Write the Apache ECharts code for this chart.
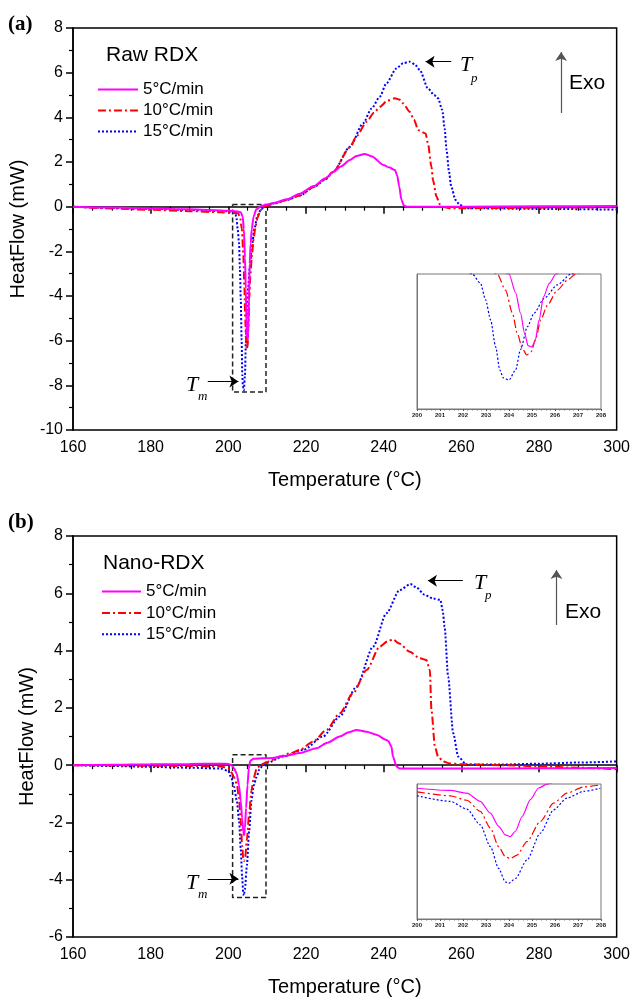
<!DOCTYPE html>
<html>
<head>
<meta charset="utf-8">
<script src="https://cdn.jsdelivr.net/npm/echarts@6/dist/echarts.min.js"></script>
<style>html,body{margin:0;padding:0;background:#fff}#c{width:633px;height:1001px}</style>
</head>
<body>
<div id="c"></div>
<script>
// ---------- DATA (temperature °C, heat flow mW) ----------
const rateNames = ['5°C/min', '10°C/min', '15°C/min'];
const xTicksMain = [160, 180, 200, 220, 240, 260, 280, 300];

// (a) Raw RDX
const raw5 = [[160,0.0],[170,-0.04],[180,-0.08],[190,-0.12],[200,-0.18],[202,-0.2],[203.2,-0.25],[203.7,-0.45],[204.0,-1.0],[204.29,-2.29],[204.5,-3.67],[204.68,-5.05],[204.83,-5.88],[204.99,-5.97],[205.13,-5.6],[205.31,-4.13],[205.5,-2.56],[205.75,-1.64],[206.04,-1.0],[206.5,-0.45],[207.2,-0.12],[208.5,0.03],[210,0.1],[212,0.18],[215,0.33],[218.4,0.58],[222,0.92],[225,1.27],[227,1.55],[229,1.8],[231.3,2.09],[233,2.27],[235.1,2.36],[237,2.25],[239.9,1.87],[241.5,1.75],[242.9,1.64],[243.5,1.4],[244.0,0.9],[244.6,0.3],[245.2,0.05],[245.9,0.0],[260,0.0],[280,0.02],[300,0.03]];
const raw10 = [[160,0.0],[170,-0.08],[180,-0.14],[190,-0.2],[198,-0.25],[201,-0.27],[202.5,-0.3],[203.0,-0.45],[203.49,-1.0],[203.85,-2.1],[204.15,-3.67],[204.36,-5.05],[204.58,-6.06],[204.77,-6.4],[204.97,-6.29],[205.16,-5.42],[205.38,-4.13],[205.67,-3.12],[206.1,-2.1],[206.55,-1.4],[206.9,-1.0],[207.5,-0.5],[208.3,-0.15],[209.5,0.02],[212,0.15],[215,0.3],[218.4,0.5],[222,0.88],[225,1.25],[227,1.57],[231.3,2.65],[233,3.15],[235.6,3.8],[237.5,4.2],[239,4.47],[241,4.75],[242.9,4.85],[244,4.8],[245,4.63],[246.7,4.25],[247.8,3.9],[248.9,3.43],[250.8,3.28],[251.4,2.84],[252.3,1.79],[252.7,1.19],[253.6,0.45],[254.5,0.1],[255.3,0.0],[257,-0.07],[270,-0.06],[285,-0.04],[300,-0.02]];
const raw15 = [[160,0.0],[170,-0.05],[180,-0.1],[190,-0.15],[198,-0.2],[201,-0.22],[201.8,-0.3],[202.1,-0.5],[202.4,-1.0],[202.76,-1.63],[202.98,-2.75],[203.2,-4.13],[203.42,-5.97],[203.6,-7.53],[203.75,-8.08],[204.0,-8.22],[204.29,-7.53],[204.5,-6.15],[204.8,-4.59],[205.09,-3.67],[205.53,-2.66],[206.1,-1.74],[206.7,-1.0],[207.5,-0.4],[208.5,-0.1],[209.5,0.05],[212,0.15],[215,0.3],[218.4,0.5],[222,0.88],[225,1.22],[227,1.55],[231.3,2.68],[234.7,3.73],[236.9,4.4],[239,4.92],[240.7,5.52],[243.3,6.19],[245,6.42],[246.7,6.49],[248,6.38],[249.3,6.12],[251.4,5.3],[253,5.0],[254,4.85],[255.1,4.33],[255.7,3.5],[256.2,2.54],[256.8,1.6],[257.4,0.9],[258.5,0.3],[259.6,0.08],[261.3,-0.07],[280,-0.1],[300,-0.13]];

// (b) Nano-RDX
const nano5 = [[160,0.0],[170,0.01],[180,0.03],[190,0.04],[198,0.05],[200,0.04],[200.8,0.0],[201.45,-0.1],[202.17,-0.3],[202.75,-0.7],[203.19,-1.25],[203.55,-1.85],[203.84,-2.3],[204.06,-2.45],[204.28,-2.2],[204.57,-1.5],[204.93,-0.7],[205.29,-0.1],[205.65,0.15],[206.5,0.22],[209,0.24],[211.5,0.25],[215,0.33],[218.4,0.42],[222.7,0.59],[225.5,0.78],[228.7,1.0],[231,1.15],[233,1.23],[235.6,1.17],[238.1,1.06],[240.7,0.88],[241.2,0.84],[242,0.65],[242.4,0.3],[243.3,-0.05],[244.1,-0.12],[260,-0.12],[280,-0.11],[300,-0.1]];
const nano10 = [[160,0.0],[170,-0.01],[180,-0.02],[190,-0.03],[198,-0.05],[200,-0.1],[200.8,-0.25],[201.45,-0.42],[202.17,-0.65],[202.75,-1.15],[203.19,-1.95],[203.55,-2.8],[203.84,-3.25],[204.06,-3.35],[204.35,-3.2],[204.78,-2.6],[205.36,-1.7],[205.94,-0.9],[206.52,-0.45],[207.3,-0.12],[208.5,0.03],[209.9,0.1],[211,0.17],[213.3,0.3],[216,0.42],[218.4,0.53],[221.8,0.82],[225.3,1.23],[228.7,1.81],[232.1,2.51],[235.6,3.32],[239,4.14],[241,4.32],[242.4,4.39],[244,4.25],[246.7,3.96],[249.3,3.73],[251,3.67],[251.9,3.32],[252.3,1.93],[253.2,0.65],[254,0.3],[255.3,0.13],[257,0.06],[260,0.03],[270,0.0],[280,-0.04],[290,-0.09],[300,-0.14]];
const nano15 = [[160,0.0],[170,-0.03],[180,-0.06],[190,-0.09],[198,-0.12],[200,-0.2],[200.8,-0.45],[201.45,-0.75],[202.17,-1.22],[202.75,-1.92],[203.19,-2.9],[203.55,-3.88],[203.84,-4.48],[203.99,-4.55],[204.28,-4.33],[204.78,-3.5],[205.36,-2.3],[205.94,-1.25],[206.52,-0.72],[207.25,-0.42],[208,-0.15],[209,0.02],[210,0.08],[214.1,0.3],[219.3,0.53],[224.4,1.0],[228.7,1.7],[233,2.74],[237.3,4.14],[240.7,5.3],[244.1,6.11],[246.9,6.32],[248.5,6.2],[250.5,5.95],[252.7,5.82],[254.6,5.77],[255.2,5.4],[255.7,4.83],[256.6,3.09],[257.9,1.12],[259.2,0.3],[261.3,0.02],[270,0.02],[280,0.05],[290,0.09],[300,0.13]];

// Insets: melting region 200–208 °C
const insetA5 = [[203.5,-0.4],[204.0,-1.0],[204.29,-2.29],[204.5,-3.67],[204.68,-5.05],[204.83,-5.88],[204.99,-5.97],[205.13,-5.6],[205.31,-4.13],[205.5,-2.56],[205.75,-1.64],[206.04,-1.0],[206.5,-0.4]];
const insetA10 = [[203.0,-0.4],[203.49,-1.0],[203.85,-2.1],[204.15,-3.67],[204.36,-5.05],[204.58,-6.06],[204.77,-6.52],[204.97,-6.29],[205.16,-5.42],[205.38,-4.13],[205.67,-3.12],[206.1,-2.1],[206.55,-1.4],[206.9,-1.0],[207.5,-0.4]];
const insetA15 = [[201.9,-0.4],[202.4,-1.0],[202.76,-1.63],[202.98,-2.75],[203.2,-4.13],[203.42,-5.97],[203.6,-7.53],[203.75,-8.08],[204.0,-8.22],[204.29,-7.53],[204.5,-6.15],[204.8,-4.59],[205.09,-3.67],[205.53,-2.66],[206.1,-1.74],[206.7,-1.0],[207.3,-0.4]];
const insetB5 = [[200,-0.28],[201.45,-0.38],[202.17,-0.5],[202.75,-0.87],[203.19,-1.4],[203.55,-1.99],[203.84,-2.37],[204.06,-2.45],[204.28,-2.21],[204.57,-1.55],[204.93,-0.79],[205.29,-0.27],[205.65,-0.1],[206.0,0.0],[208,0.1]];
const insetB10 = [[200,-0.44],[201.45,-0.62],[202.17,-0.82],[202.75,-1.32],[203.19,-2.07],[203.55,-2.9],[203.84,-3.35],[204.06,-3.44],[204.35,-3.28],[204.78,-2.68],[205.36,-1.77],[205.94,-0.95],[206.52,-0.5],[207.25,-0.22],[207.97,-0.13]];
const insetB15 = [[200,-0.62],[201.45,-0.87],[202.17,-1.22],[202.75,-1.92],[203.19,-2.9],[203.55,-3.88],[203.84,-4.48],[203.99,-4.55],[204.28,-4.33],[204.78,-3.5],[205.36,-2.3],[205.94,-1.25],[206.52,-0.72],[207.25,-0.42],[207.97,-0.28]];

// Annotation geometry in data units
const boxA = [[201.1,0.1],[209.7,0.1],[209.7,-8.3],[201.1,-8.3],[201.1,0.1]];
const boxB = [[201.1,0.36],[209.7,0.36],[209.7,-4.62],[201.1,-4.62],[201.1,0.36]];
const arrowsA = [[[257.4,6.49],[250.8,6.49]], [[194.7,-7.83],[202.6,-7.83]]];
const arrowsB = [[[260.4,6.44],[251.4,6.44]], [[194.7,-3.97],[202.6,-3.97]]];
const exoA = [[285.7,4.19],[285.7,6.93]];
const exoB = [[284.5,4.89],[284.5,6.81]];

// ---------- STYLE ----------
const SANS = '"Liberation Sans", Arial, sans-serif';
const SERIF = '"Liberation Serif", "Times New Roman", serif';
const colors = ['#ff00ff', '#ff0000', '#0000ff'];
const dashes = ['solid', [8, 3, 2, 3], [2, 2]];

const chart = echarts.init(document.getElementById('c'), null, {renderer: 'canvas'});

function mainX(gi) {
  return {
    type: 'value', gridIndex: gi, min: 160, max: 300, interval: 20,
    axisLine: {lineStyle: {color: '#000', width: 1.5}},
    axisTick: {length: 7, lineStyle: {color: '#000', width: 1.5}},
    minorTick: {show: true, splitNumber: 4, length: 4, lineStyle: {color: '#000', width: 1.2}},
    splitLine: {show: false},
    axisLabel: {fontSize: 16, color: '#000', fontFamily: SANS, margin: 10,
      formatter: v => xTicksMain.includes(v) ? String(v) : ''},
    name: 'Temperature (°C)', nameLocation: 'middle', nameGap: 40,
    nameTextStyle: {fontSize: 20, color: '#000', fontFamily: SANS}
  };
}
function mainY(gi, min, max) {
  return {
    type: 'value', gridIndex: gi, min: min, max: max, interval: 2,
    axisLine: {show: true, lineStyle: {color: '#000', width: 1.5}},
    axisTick: {show: true, length: 7, lineStyle: {color: '#000', width: 1.5}},
    minorTick: {show: true, splitNumber: 2, length: 4, lineStyle: {color: '#000', width: 1.2}},
    splitLine: {show: false},
    axisLabel: {fontSize: 16, color: '#000', fontFamily: SANS, margin: 10},
    name: 'HeatFlow (mW)', nameLocation: 'middle', nameGap: 35,
    nameTextStyle: {fontSize: 20, color: '#000', fontFamily: SANS}
  };
}
function insetX(gi) {
  return {
    type: 'value', gridIndex: gi, min: 200, max: 208, interval: 1,
    axisLine: {lineStyle: {color: '#777', width: 1}},
    axisTick: {length: 2, lineStyle: {color: '#555', width: 1}},
    minorTick: {show: true, splitNumber: 5, length: 1.5, lineStyle: {color: '#777'}},
    splitLine: {show: false},
    axisLabel: {fontSize: 6, fontWeight: 'bold', color: '#222', fontFamily: SANS, margin: 3}
  };
}
function insetY(gi, min, max) {
  return {
    type: 'value', gridIndex: gi, min: min, max: max,
    axisLine: {show: true, lineStyle: {color: '#777', width: 1}},
    axisTick: {show: false}, axisLabel: {show: false}, splitLine: {show: false}
  };
}
function curve(name, data, k, xi, w) {
  return {
    type: 'line', name: name, data: data, xAxisIndex: xi, yAxisIndex: xi,
    showSymbol: false, symbol: 'none', smooth: 0.25, smoothMonotone: 'x',
    lineStyle: {color: colors[k], width: w, type: dashes[k]},
    itemStyle: {color: colors[k]}, z: 3 + (2 - k), animation: false
  };
}
function boxSeries(data, xi) {
  return {type: 'line', data: data, xAxisIndex: xi, yAxisIndex: xi, symbol: 'none',
    lineStyle: {color: '#222', width: 1.5, type: [5, 3]}, z: 2, animation: false, silent: true};
}
function arrowSeries(list, xi, color) {
  return {type: 'lines', coordinateSystem: 'cartesian2d', xAxisIndex: xi, yAxisIndex: xi,
    symbol: ['none', 'arrow'], symbolSize: [4, 9],
    lineStyle: {color: color, width: 1.2, opacity: 1, curveness: 0},
    data: list.map(c => ({coords: c})), animation: false, silent: true, z: 6};
}
function txt(text, x, y, font, extra) {
  return Object.assign({type: 'text', x: x, y: y, style: {text: text, font: font, fill: '#000', verticalAlign: 'middle'}}, extra || {});
}
const legendCommon = {data: rateNames, orient: 'vertical', itemWidth: 40, itemHeight: 10,
  itemStyle: {opacity: 0}, textStyle: {fontSize: 17, color: '#000', fontFamily: SANS}, selectedMode: false};

const option = {
  backgroundColor: '#fff',
  animation: false,
  grid: [
    {left: 73, top: 28, width: 544, height: 402, show: true, borderColor: '#000', borderWidth: 1.5},
    {left: 73, top: 536, width: 544, height: 401, show: true, borderColor: '#000', borderWidth: 1.5},
    {left: 417, top: 274, width: 184, height: 135, show: true, borderColor: '#777', borderWidth: 1},
    {left: 417, top: 784, width: 184, height: 135, show: true, borderColor: '#777', borderWidth: 1}
  ],
  xAxis: [mainX(0), mainX(1), insetX(2), insetX(3)],
  yAxis: [mainY(0, -10, 8), mainY(1, -6, 8), insetY(2, -10.2, -1), insetY(3, -6.15, -0.09)],
  legend: [
    Object.assign({}, legendCommon, {left: 92, top: 76, itemGap: 4}),
    Object.assign({}, legendCommon, {left: 96, top: 578, itemWidth: 39, itemGap: 4.4})
  ],
  series: [
    curve(rateNames[0], raw5, 0, 0, 2), curve(rateNames[1], raw10, 1, 0, 2), curve(rateNames[2], raw15, 2, 0, 2),
    curve(rateNames[0], nano5, 0, 1, 2), curve(rateNames[1], nano10, 1, 1, 2), curve(rateNames[2], nano15, 2, 1, 2),
    curve('ia5', insetA5, 0, 2, 1.2), curve('ia10', insetA10, 1, 2, 1.2), curve('ia15', insetA15, 2, 2, 1.2),
    curve('ib5', insetB5, 0, 3, 1.2), curve('ib10', insetB10, 1, 3, 1.2), curve('ib15', insetB15, 2, 3, 1.2),
    boxSeries(boxA, 0), boxSeries(boxB, 1),
    arrowSeries(arrowsA, 0, '#000'), arrowSeries(arrowsB, 1, '#000'),
    arrowSeries([exoA], 0, '#555'), arrowSeries([exoB], 1, '#555')
  ],
  graphic: [
    txt('(a)', 8, 25, 'bold 21px ' + SERIF),
    txt('(b)', 8, 523, 'bold 21px ' + SERIF),
    txt('Raw RDX', 106, 55, '21px ' + SANS),
    txt('Nano-RDX', 103, 563, '21px ' + SANS),
    txt('Exo', 569, 83, '21px ' + SANS),
    txt('Exo', 565, 612, '21px ' + SANS),
    txt('T', 186, 385, 'italic 22px ' + SERIF),
    txt('m', 198, 397, 'italic 13px ' + SERIF),
    txt('T', 460, 65, 'italic 22px ' + SERIF),
    txt('p', 471, 79, 'italic 13px ' + SERIF),
    txt('T', 186, 883, 'italic 22px ' + SERIF),
    txt('m', 198, 895, 'italic 13px ' + SERIF),
    txt('T', 474, 583, 'italic 22px ' + SERIF),
    txt('p', 485, 596, 'italic 13px ' + SERIF)
  ]
};
chart.setOption(option);
</script>
</body>
</html>
